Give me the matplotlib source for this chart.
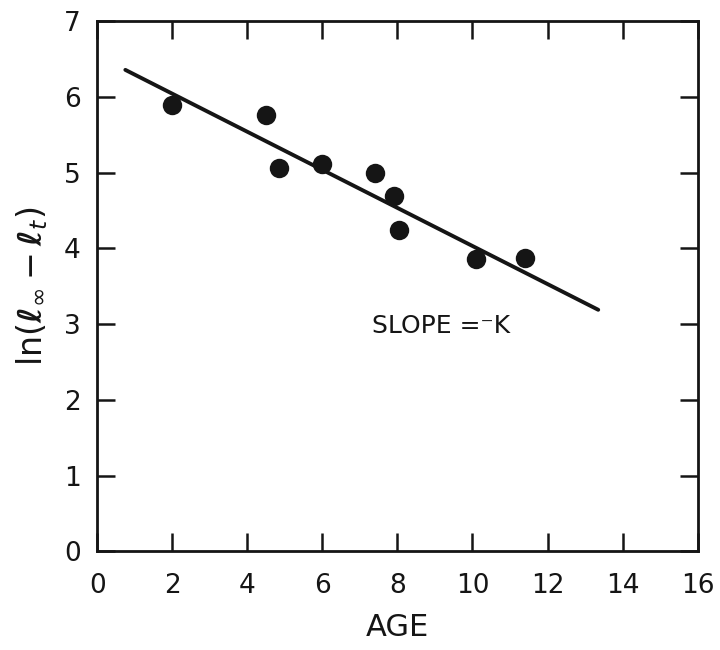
import numpy as np
import matplotlib.pyplot as plt

plt.rcParams['font.family'] = ['DejaVu Sans']
plt.rcParams['mathtext.fontset'] = 'dejavusans'

# observed points (age vs ln(L_inf - L_t))
age = [2.0, 4.5, 4.85, 6.0, 7.4, 7.9, 8.05, 10.1, 11.4]
ln_diff = [5.90, 5.77, 5.06, 5.12, 5.00, 4.70, 4.24, 3.86, 3.87]

# fitted line end points
fit_x = [0.75, 13.35]
fit_y = [6.36, 3.19]

x_ticks = [0, 2, 4, 6, 8, 10, 12, 14, 16]
x_labels = ['0', '2', '4', '6', '8', '10', '12', '14', '16']
y_ticks = [0, 1, 2, 3, 4, 5, 6, 7]

ink = '#151515'

fig = plt.figure(figsize=(7.2, 6.5), dpi=100)
ax = fig.add_axes([0.135, 0.152, 0.834, 0.815])

ax.plot(fit_x, fit_y, color=ink, linewidth=2.8, solid_capstyle='round')
ax.plot(age, ln_diff, 'o', color=ink, markersize=14, markeredgewidth=0)

ax.text(9.15, 2.98, 'SLOPE =\u207bK', fontsize=18, color=ink, ha='center', va='center')

ax.set_xlim(0, 16)
ax.set_ylim(0, 7)
ax.set_xticks(x_ticks)
ax.set_xticklabels(x_labels)
ax.set_yticks(y_ticks)

ax.tick_params(axis='both', direction='in', length=13, width=1.8, colors=ink,
               labelsize=19, top=True, right=True)
ax.tick_params(axis='x', pad=16)
ax.tick_params(axis='y', pad=12)
for s in ax.spines.values():
    s.set_linewidth(2)
    s.set_color(ink)

ax.set_xlabel('AGE', fontsize=22, color=ink, labelpad=10)
ax.set_ylabel(r'ln$(\boldsymbol{\ell}_{\infty} - \boldsymbol{\ell}_{t})$', fontsize=24,
              color=ink, labelpad=10)

fig.savefig('out.png', dpi=100, facecolor='white')
